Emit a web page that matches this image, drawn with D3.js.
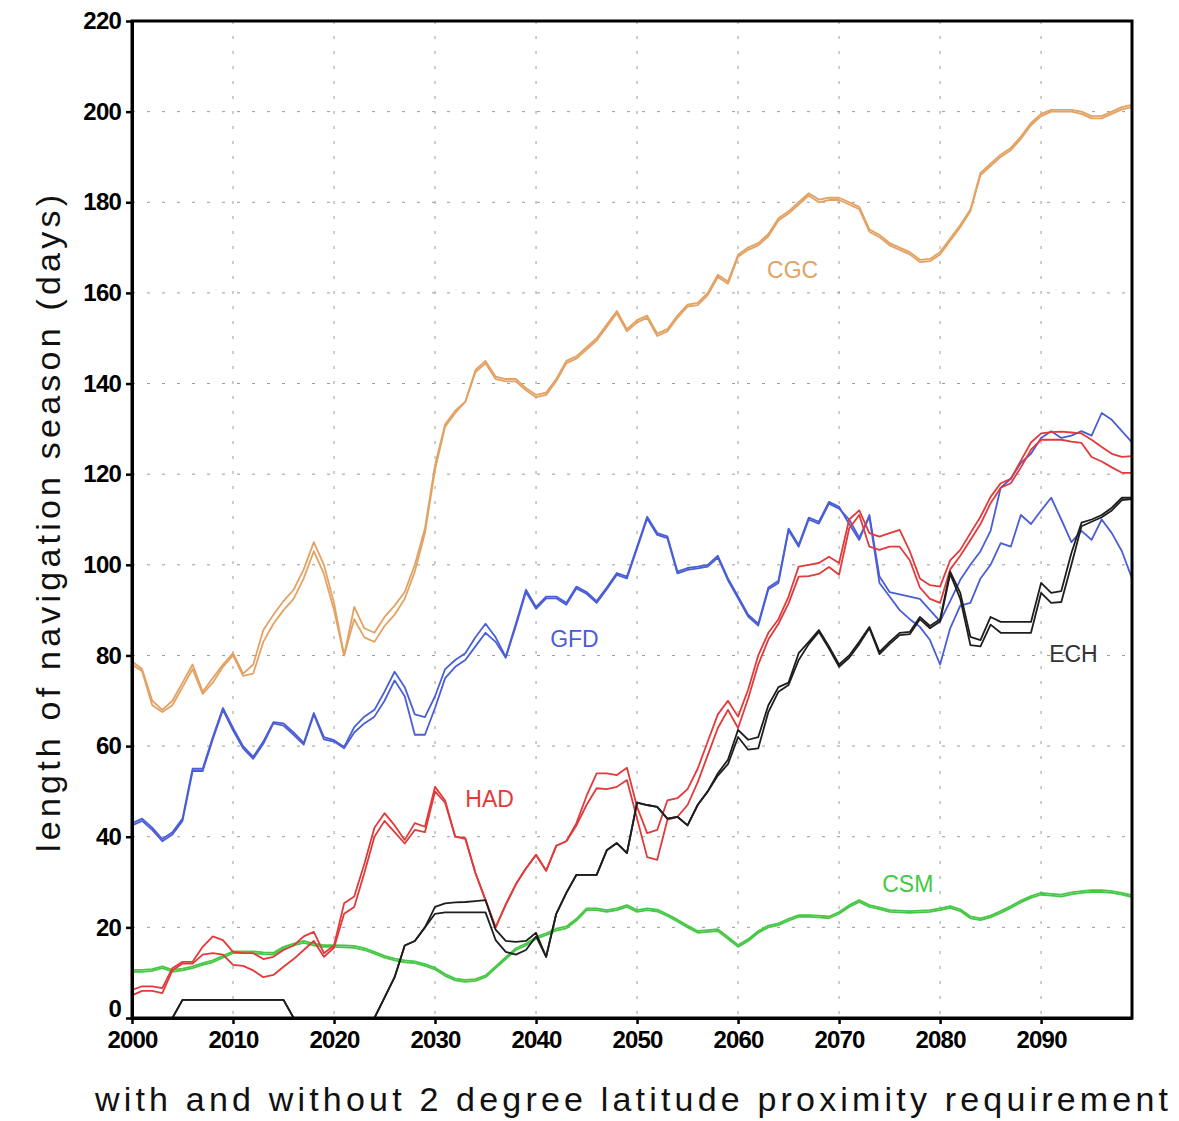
<!DOCTYPE html>
<html>
<head>
<meta charset="utf-8">
<script src="https://cdn.jsdelivr.net/npm/d3@7"></script>
<style>
  html, body { margin: 0; padding: 0; background: #fff; }
  svg { display: block; }
</style>
</head>
<body>
<svg id="chart" width="1179" height="1121"></svg>
<script>
// ---------------- DATA ----------------
const years = d3.range(2000, 2100); // 2000 ... 2099
const xTickValues = [2000, 2010, 2020, 2030, 2040, 2050, 2060, 2070, 2080, 2090];
const yTickValues = [0, 20, 40, 60, 80, 100, 120, 140, 160, 180, 200, 220];
const modelNames = ["CGC", "GFD", "HAD", "ECH", "CSM"];

// CGC (two variants)
const cgcA = [78.7,77,70,68,70,74,78,72,75,78, 80.5,76,78,85.6,89,92,94.5,99,105,100,
  91.6,80,90.7,86,85,88.5,91,94,100,108, 122,131,134,136,143,145,141.5,141,141,139,
  137.5,138,141,145,146,148,150,153,156,152, 154,155,151,152,155,157.4,157.8,160,164,162.5,
  168.4,170,171,173,176.5,178,180,182,180.6,181, 181,180,179,174,172.8,171,170,169,167.3,167.5,
  169,172,175,178.4,186.5,188.5,190.5,192,194.5,197.5, 199.5,200.4,200.4,200.4,200,199,199,200,201,201.5];
const cgcB = [78,76.5,69,67.5,69,73,77,71.5,74,77.5, 80,75.5,76,83,87,90,92.5,97,103,98,
  90,80,88,84,83,86.5,89,92.5,98.5,107, 121,130.5,133.5,136,142.5,144.5,141,140.5,140.5,138.5,
  137,137.5,140.5,144.5,145.5,147.5,149.5,152.5,155.5,151.5, 153.5,154.5,150.5,151.5,154.5,157,157.3,159.5,163.5,162,
  168,169.5,170.5,172.5,176,177.5,179.5,181.5,180,180.5, 180.5,179.5,178.5,173.5,172.3,170.5,169.5,168.5,166.8,167,
  168.5,171.5,174.5,178,186,188,190,191.5,194,197, 199,200,200,200,199.5,198.5,198.5,199.5,200.5,201];

// GFD (two variants)
const gfdA = [43,44,42,39.5,41,44,55,55,62,68.4, 64,60,57.6,61,65.3,65,63,60.7,67.3,62,
  61.3,59.8,64.2,66.5,68,72,76.4,73,67,66.4, 71,77,79,80.5,84,87,84,79.7,87,94.5,
  90.7,93,93,91.6,95.2,94,92,95,98.2,97.4, 104,110.6,107,106.3,98.5,99.3,99.6,100,102,97,
  93,89,87,95,96.5,108,104.4,110.4,109.5,113.9, 112.8,109,105.5,111,97.4,94,93.5,93,92.5,90,
  87.5,92,96.7,100,103,107.5,117,119,122.5,124.5, 128,129.5,128,128.5,129.5,128.5,133.5,132,129.5,127];
const gfdB = [42.5,43.5,41.5,39,40.5,43.5,54.5,54.5,61.5,68, 63.5,59.5,57.2,60.5,65,64.5,62.5,60.3,67,61.5,
  61,59.5,63,65,66.5,70,74.5,71,62.5,62.5, 68.4,75,77.5,79,82,85,83,79.5,86.5,94,
  90.3,92.6,92.6,91.2,94.8,93.6,91.6,94.6,97.8,97, 103.6,110.2,106.6,105.9,98.1,98.9,99.2,99.6,101.6,96.6,
  92.6,88.6,86.6,94.6,96,107.6,104,110,109.1,113.5, 112.4,110,106,110.6,96,93,90,88,86.3,83.4,
  78,86,91,91.6,97,100,104.8,104,111,109, 112,114.8,110,105,107.5,105.5,110,107,103,97];

// HAD (two variants)
const hadA = [6.2,7,7,6.6,11,12.4,12.4,15.7,18,17.2, 14.6,14.3,14.3,13,13.5,15,16,18,19,14.3,
  16,25.3,26.8,34,42,45.2,42.5,39.3,43,42.2, 51,48,40,39.7,32,26,20,25,29.5,33,
  36,32.5,38,39,43,49,54,54,53.6,55.2, 46.6,40.8,41.5,48,48.5,50.5,55,61,67,70,
  66.5,72.5,80,85,88,93,99.6,100,100.4,101.8, 100.4,110,112,107,106.2,107,107.7,103,97,95.5,
  95.2,101,103.3,107,110.6,115,118,119,123,127, 129,129.3,129.4,129.2,129,127.6,126,124.5,123.8,124];
const hadB = [5,6,6,5.5,10.5,12,12,14,14.3,14, 11.7,11.5,10.5,9,9.5,11.3,13,15,17,13.5,
  15.5,23,24.5,32,40,43.5,41,38.5,41.5,41, 50,47.5,40,39.5,32,26,20,25,29.5,33,
  36,32.5,38,39,42.5,47,50.7,50.5,51,52.5, 44,35.5,34.9,43.7,44.4,47,52,58,64,68,
  64,70.5,78,83.5,87,91.5,97.4,97.5,98,99.5, 97.8,108,111,104,103.3,104,104,101,95,92.5,
  91.6,99,102,105.5,109,113.6,117,118,121.5,125.4, 127.6,127.6,127.6,127.2,126.9,123.8,122.8,121.5,120.3,120.3];

// ECH (two variants)
const echA = [0,0,0,0,0,4,4,4,4,4, 4,4,4,4,4,4,0,0,0,0,
  0,0,0,0,0,4.5,9,16,17,20, 24.5,25.3,25.5,25.6,25.8,26,19.5,17,16.8,17,
  18.8,13.5,23,27.6,31.6,31.6,31.6,37,38.6,36.4, 47.5,47,46.6,44,44.4,42.5,47,50,54,57,
  63.6,61.4,62,69,73,74,80.5,83,85.6,82, 78,80,83,86.3,80.8,83,85,85.2,88.5,86.5,
  88,98.5,93.8,84.1,83.4,88.5,87.4,87.4,87.4,87.4, 96,93.8,94.2,102.6,109.3,110,111,112.6,114.8,114.8];
const echB = [0,0,0,0,0,4,4,4,4,4, 4,4,4,4,4,4,0,0,0,0,
  0,0,0,0,0,4.5,9,16,17,20, 23,23.3,23.3,23.3,23.3,23.3,17.2,14.6,14,15,
  18,13.5,23,27.6,31.6,31.6,31.6,37,38.6,36.4, 47.5,47,46.6,44,44.4,42.5,47,50,53.5,56,
  62,59.2,59.5,67.5,72,73.5,79,82.5,85.2,81.5, 77.5,79.5,82.5,86,80.3,82.5,84.5,84.7,88,86,
  87.5,98,92.5,82.3,82,86.8,85,85,85,85, 93.8,91.6,91.8,100,108.5,109.5,110.5,112,114.3,114.5];

// CSM (two variants, nearly identical)
const csmA = [10.2,10.2,10.4,11,10.2,10.5,11,11.7,12.3,13.3, 14.3,14.3,14.3,14.1,14,15.3,16,16.6,16,15.7,
  15.7,15.6,15.5,15,14.2,13.3,12.7,12.3,12.1,11.5, 10.7,9.3,8.3,8,8.2,9,11,13,15,16,
  17.5,18.3,19.3,19.8,21.5,23.8,23.8,23.4,23.8,24.5, 23.4,23.8,23.5,22.5,21.3,20,18.8,19,19.2,17.5,
  15.7,17,18.8,20,20.5,21.5,22.3,22.3,22.2,22, 23,24.5,25.6,24.5,24,23.4,23.3,23.2,23.3,23.4,
  23.8,24.3,23.6,22,21.6,22.2,23.2,24.3,25.5,26.5, 27.2,27,26.8,27.3,27.6,27.8,27.8,27.6,27.2,26.7];
const csmB = [10.6,10.6,10.8,11.4,10.6,10.9,11.4,12.1,12.7,13.7, 14.7,14.7,14.7,14.5,14.4,15.7,16.4,17,16.4,16.1,
  16.1,16,15.9,15.4,14.6,13.7,13.1,12.7,12.5,11.9, 11.1,9.7,8.7,8.4,8.6,9.4,11.4,13.4,15.4,16.4,
  17.9,18.7,19.7,20.2,21.9,24.2,24.2,23.8,24.2,24.9, 23.8,24.2,23.9,22.9,21.7,20.4,19.2,19.4,19.6,17.9,
  16.1,17.4,19.2,20.4,20.9,21.9,22.7,22.7,22.6,22.4, 23.4,24.9,26,24.9,24.4,23.8,23.7,23.6,23.7,23.8,
  24.2,24.7,24,22.4,22,22.6,23.6,24.7,25.9,26.9, 27.6,27.4,27.2,27.7,28,28.2,28.2,28,27.6,27.1];

const xAxisTitle = "with and without 2 degree latitude proximity requirement";
const yAxisTitle = "length of navigation season (days)";

// ---------------- DRAW ----------------
const svg = d3.select("#chart");
const L = 132, R = 1132, T = 21, B = 1018;
const x = d3.scaleLinear().domain([2000, 2099]).range([L, R]);
const y = d3.scaleLinear().domain([0, 220]).range([B, T]);

const colors = { CGC: "#e3a263", GFD: "#4a5ed6", HAD: "#e23a3a", ECH: "#1e1e1e", CSM: "#46c846" };
const FONT = "'Liberation Sans', Arial, Helvetica, sans-serif";

// grid
const grid = svg.append("g").attr("stroke", "#9a9a9a").attr("stroke-width", 1)
  .attr("stroke-dasharray", "3,12");
grid.selectAll("line.v").data(xTickValues.slice(1)).join("line")
  .attr("x1", d => x(d)).attr("x2", d => x(d)).attr("y1", T).attr("y2", B);
grid.selectAll("line.h").data(yTickValues.slice(1, -1)).join("line")
  .attr("x1", L).attr("x2", R).attr("y1", d => y(d)).attr("y2", d => y(d));

// lines
svg.append("clipPath").attr("id", "clip").append("rect")
  .attr("x", L).attr("y", T).attr("width", R - L).attr("height", B - T);
const lineGen = d3.line().x((d, i) => x(years[i])).y(d => y(d)).defined(d => d != null);
const series = [
  { name: "CSM", data: csmA }, { name: "CSM", data: csmB },
  { name: "CGC", data: cgcA }, { name: "CGC", data: cgcB },
  { name: "GFD", data: gfdA }, { name: "GFD", data: gfdB },
  { name: "HAD", data: hadA }, { name: "HAD", data: hadB },
  { name: "ECH", data: echA }, { name: "ECH", data: echB }
];
const lg = svg.append("g").attr("clip-path", "url(#clip)");
lg.selectAll("path").data(series).join("path")
  .attr("d", d => lineGen(d.data))
  .attr("fill", "none")
  .attr("stroke", d => colors[d.name])
  .attr("stroke-width", 1.8)
  .attr("stroke-linejoin", "round");

// model labels
const labelPos = { CGC: [2065.4, 165.1], GFD: [2043.8, 83.6], HAD: [2035.4, 48.3], ECH: [2093.2, 80.3], CSM: [2076.8, 29.6] };
svg.append("g").selectAll("text").data(modelNames).join("text")
  .attr("x", d => x(labelPos[d][0])).attr("y", d => y(labelPos[d][1]))
  .attr("text-anchor", "middle").attr("dominant-baseline", "central")
  .attr("font-family", FONT)
  .attr("font-size", 23).attr("fill", d => d === "ECH" ? "#333" : colors[d])
  .text(d => d);

// frame
svg.append("rect").attr("x", L).attr("y", T).attr("width", R - L).attr("height", B - T)
  .attr("fill", "none").attr("stroke", "#000").attr("stroke-width", 3);

// axes
const xAxis = d3.axisBottom(x).tickValues(xTickValues).tickFormat(d3.format("d"))
  .tickSize(6).tickSizeOuter(0).tickPadding(7);
const yAxis = d3.axisLeft(y).tickValues(yTickValues).tickFormat(d3.format("d"))
  .tickSize(6).tickSizeOuter(0).tickPadding(5);
const gx = svg.append("g").attr("transform", `translate(0,${B})`).call(xAxis);
const gy = svg.append("g").attr("transform", `translate(${L},0)`).call(yAxis);
[gx, gy].forEach(g => {
  g.select(".domain").attr("stroke", "#000").attr("stroke-width", 3);
  g.selectAll(".tick line").attr("stroke", "#000").attr("stroke-width", 2.5);
  g.selectAll(".tick text")
    .attr("font-family", FONT)
    .attr("font-weight", "bold").attr("font-size", 24).attr("fill", "#000")
    .attr("letter-spacing", "-0.8px");
});
// nudge the "0" label up so it sits above the "2000" label as in the reference
gy.selectAll(".tick").filter(d => d === 0).select("text").attr("dy", "-0.05em");

// axis titles
svg.append("text")
  .attr("x", 95).attr("y", 1111)
  .attr("textLength", 1073).attr("lengthAdjust", "spacing")
  .attr("font-family", FONT)
  .attr("font-size", 34).attr("fill", "#111")
  .text(xAxisTitle);
svg.append("text")
  .attr("transform", "translate(60,852) rotate(-90)")
  .attr("x", 0).attr("y", 0)
  .attr("textLength", 657).attr("lengthAdjust", "spacing")
  .attr("font-family", FONT)
  .attr("font-size", 34).attr("fill", "#111")
  .text(yAxisTitle);
</script>
</body>
</html>
